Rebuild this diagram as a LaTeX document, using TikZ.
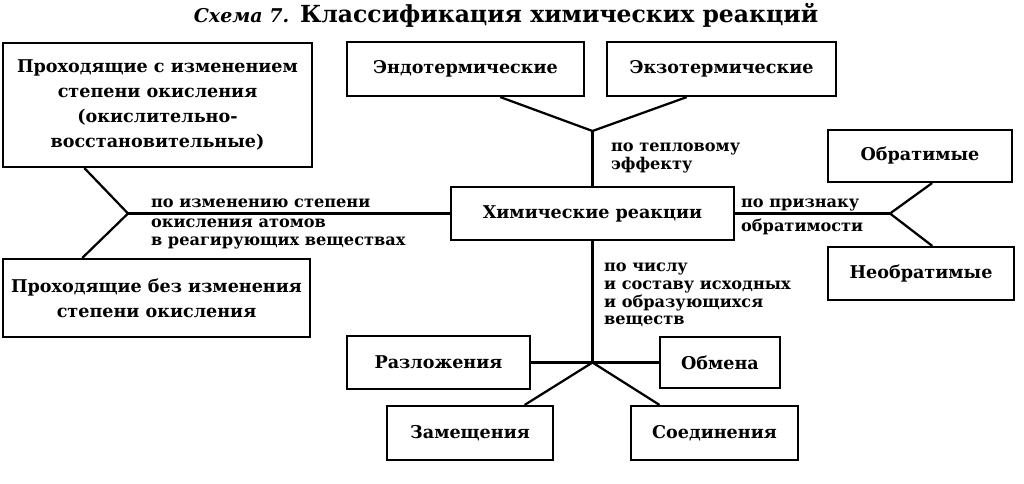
\documentclass[tikz,border=0pt]{standalone}
\usepackage{fontspec}
\setmainfont{DejaVu Serif}
\usetikzlibrary{calc}

\tikzset{
  box/.style={draw, line width=1.5pt, align=center, inner sep=2pt,
    font=\bfseries\fontsize{12.5}{17.6}\selectfont},
  lbl/.style={align=left, inner sep=0pt, anchor=north west,
    font=\bfseries\fontsize{11.5}{12.6}\selectfont},
}

\begin{document}
\begin{tikzpicture}[x=0.025cm, y=-0.025cm, line width=1.6pt]
\useasboundingbox (0,0) rectangle (1024,484);

\node[font=\bfseries\fontsize{16.7}{18}\selectfont](TITLE) at (506,15){%
  {\itshape\fontsize{13.5}{16}\selectfont Схема 7.} Классификация химических реакций};

\node[box, minimum width=7.075cm, minimum height=1.325cm](R) at (592.5,213.5){Химические реакции};

% by heat effect
\node[box, minimum width=5.925cm, minimum height=1.35cm](T1) at (465.5,69){Эндотермические};
\node[box, minimum width=5.725cm, minimum height=1.35cm](T2) at (721.5,69){Экзотермические};

% by oxidation state
\node[box, minimum width=7.725cm, minimum height=3.1cm](OX1) at (157.5,105){Проходящие с изменением\\степени окисления\\(окислительно-\\восстановительные)};
\node[box, minimum width=7.675cm, minimum height=1.95cm](OX2) at (156.5,298){Проходящие без изменения\\степени окисления};

% by reversibility
\node[box, minimum width=4.6cm, minimum height=1.3cm](REV1) at (920,156){Обратимые};
\node[box, minimum width=4.65cm, minimum height=1.325cm](REV2) at (921,273.5){Необратимые};

% by number and composition
\node[box, minimum width=4.575cm, minimum height=1.325cm](S1) at (438.5,362.5){Разложения};
\node[box, minimum width=3.0cm, minimum height=1.275cm](S2) at (720,362.5){Обмена};
\node[box, minimum width=4.15cm, minimum height=1.35cm](S3) at (470,433){Замещения};
\node[box, minimum width=4.175cm, minimum height=1.35cm](S4) at (714.5,433){Соединения};

\coordinate(J1) at (592.5,131);
\coordinate(J2) at (128,213.5);
\coordinate(J3) at (890,213.5);
\coordinate(J4) at (592.5,362.5);

\draw ($(T1.south west)!0.645!(T1.south east)$) -- (J1) -- ($(T2.south west)!0.35!(T2.south east)$);
\draw (J1) -- (R.north);

\draw ($(OX1.south west)!0.265!(OX1.south east)$) -- (J2) -- ($(OX2.north west)!0.26!(OX2.north east)$);
\draw (J2) -- (R.west);

\draw ($(REV1.south west)!0.565!(REV1.south east)$) -- (J3) -- ($(REV2.north west)!0.56!(REV2.north east)$);
\draw (R.east) -- (J3);

\draw (R.south) -- (J4);
\draw (S1.east) -- (J4) -- (S2.west);
\draw ($(S3.north west)!0.825!(S3.north east)$) -- (J4) -- ($(S4.north west)!0.175!(S4.north east)$);

\node[lbl](L1) at (610,142){по тепловому\\эффекту};
\node[lbl, anchor=base west](L2) at (150,208){по изменению степени};
\node[lbl](L3) at (150,218){окисления атомов\\в реагирующих веществах};
\node[lbl, anchor=base west](L4) at (740,208){по признаку};
\node[lbl](L5) at (740,218){обратимости};
\node[lbl](L6) at (603,262){по числу\\и составу исходных\\и образующихся\\веществ};
\end{tikzpicture}
\end{document}
